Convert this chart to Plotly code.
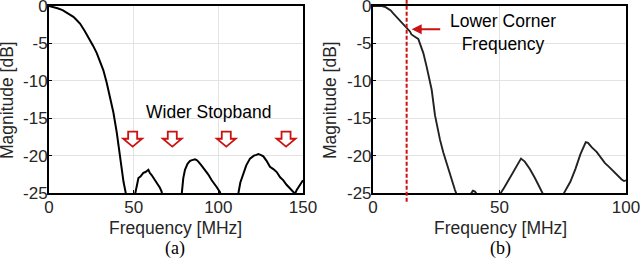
import plotly.graph_objects as go

# ---- data (a) ----
freq_a = [0, 2, 5, 8, 10, 12, 14.4, 16, 18.3, 21, 24.2, 26, 28.2, 30, 32.1, 34, 36, 38, 40, 42, 44, 45.5, 47,
          49, 50.8, 52.8, 54, 55.7, 57, 58.7, 59.5, 60.6, 61.5, 62.6, 63.5, 64.6, 65.5, 66.5, 68,
          75, 78.4, 79.3, 80.3, 81.8, 83.3, 84.5, 86.2, 87.2, 88.2, 90, 92.1, 94, 96.1, 97.5, 99, 101, 103,
          108, 111.8, 113, 114.7, 116.5, 118.7, 121, 122.5, 123.6, 125, 126.6, 128.5, 130.5, 132.5, 134.5,
          136.5, 138.4, 140.3, 142.3, 144.3, 145.3, 146.3, 147.8, 149.2, 150]
mag_a = [0, -0.08, -0.3, -0.55, -0.8, -1.1, -1.45, -1.8, -2.35, -3.3, -4.5, -5.3, -6.3, -7.3, -8.6, -10.2, -12.1, -14.2,
         -16.9, -20.4, -23.5, -25.2, -28,
         -29, -25.2, -23.0, -22.8, -22.3, -22.2, -21.9, -22.3, -22.6, -22.9, -23.3, -23.5, -23.9, -24.3, -24.8, -27,
         -28, -25.1, -23.0, -21.9, -21.1, -20.7, -20.6, -20.5, -20.6, -20.8, -21.3, -21.9, -22.5, -23.3, -23.7, -24.2, -24.9, -27,
         -28, -25.1, -23.6, -22.4, -21.3, -20.4, -20.0, -19.9, -19.8, -19.9, -20.1, -20.7, -21.5, -21.8, -22.2,
         -22.9, -23.3, -23.9, -24.4, -24.8, -25.1, -24.6, -24.1, -23.6, -23.3]

# ---- data (b) ----
freq_b = [0, 2, 3.5, 5, 7, 8, 10, 12, 13.3, 14.6, 15.2, 15.9, 17, 17.9, 19, 19.9, 21.2, 22.2, 23.2, 24.5,
          25.2, 26.5, 27.8, 29.1, 30.5, 32.4, 34, 37, 38.5, 39.5, 40.3, 41.5, 45,
          49, 50.5, 52, 54, 56, 58.5, 60, 62, 64, 66, 67.5, 70,
          74, 75.5, 78, 80, 82, 84.1, 85, 86.5, 88.4, 90, 91.7, 93.3, 95, 96.5, 98.3, 99.2, 100]
mag_b = [0, 0, 0, -0.15, -0.6, -1.0, -1.7, -2.5, -3.0, -3.4, -3.8, -4.0, -4.2, -4.4, -5.3, -6.3, -8.1, -9.6, -11.2, -14.6,
         -15.8, -17.9, -19.6, -21.0, -22.7, -24.6, -26, -26, -25.2, -24.7, -24.8, -25.3, -27,
         -27, -25.0, -24.2, -23.0, -21.8, -20.4, -20.8, -21.8, -23.0, -24.3, -25.3, -27,
         -27, -25.0, -23.5, -21.8, -19.8, -18.2, -18.3, -18.9, -19.5, -20.3, -21.0, -21.5, -22.1, -22.6, -23.2, -23.4, -23.3]

x_ticks_a = [0, 50, 100, 150]
x_ticks_b = [0, 50, 100]
y_ticks = [0, -5, -10, -15, -20, -25]
y_tick_text = ["0", "-5", "-10", "-15", "-20", "-25"]

stop_arrow_f = [49.4, 72.8, 104.7, 140.0]
corner_freq = 13.3

RED = "#cc1111"
TXT = "#262626"
FONT = "Liberation Sans, Arial, sans-serif"

fig = go.Figure()
fig.add_trace(go.Scatter(x=freq_a, y=mag_a, mode="lines", line=dict(color="black", width=2),
                         xaxis="x", yaxis="y", showlegend=False))
fig.add_trace(go.Scatter(x=freq_b, y=mag_b, mode="lines", line=dict(color="#222222", width=1.9),
                         xaxis="x2", yaxis="y2", showlegend=False))

ydom = [0.2605, 0.977]
common_y = dict(range=[-25, 0], tickvals=y_ticks, ticktext=y_tick_text, showgrid=True,
                gridcolor="#e3e3e3", gridwidth=1, showline=True, linecolor="black", linewidth=2,
                mirror=True, ticks="inside", ticklen=3, tickcolor="black", zeroline=False, automargin=False,
                ticklabeloverflow="allow", ticklabelstandoff=-4,
                tickfont=dict(family=FONT, size=17, color=TXT), domain=ydom)
common_x = dict(showgrid=True, gridcolor="#e3e3e3", gridwidth=1, showline=True, linecolor="black",
                linewidth=2, mirror=True, ticks="inside", ticklen=3, tickcolor="black", zeroline=False,
                automargin=False, ticklabeloverflow="allow", ticklabelstandoff=-2,
                tickfont=dict(family=FONT, size=17, color=TXT))

fig.update_layout(
    width=640, height=261, margin=dict(l=0, r=0, t=0, b=0, autoexpand=False),
    paper_bgcolor="white", plot_bgcolor="white",
    xaxis=dict(domain=[0.0766, 0.4734], range=[0, 150], tickvals=x_ticks_a, anchor="y", **common_x),
    yaxis=dict(anchor="x", **common_y),
    xaxis2=dict(domain=[0.5828, 0.9781], range=[0, 100], tickvals=x_ticks_b, anchor="y2", **common_x),
    yaxis2=dict(anchor="x2", **common_y),
)

# block arrows (hollow) for stopband
head_half = 5.6
shaft_half = 2.66
top = -16.8
mid = -17.75
bot = -18.8
for f in stop_arrow_f:
    path = (f"M {f-shaft_half} {top} L {f+shaft_half} {top} L {f+shaft_half} {mid} L {f+head_half} {mid} "
            f"L {f} {bot} L {f-head_half} {mid} L {f-shaft_half} {mid} Z")
    fig.add_shape(type="path", path=path, xref="x", yref="y", line=dict(color=RED, width=1.8),
                  fillcolor="white")

# dashed corner-frequency line
fig.add_shape(type="line", x0=corner_freq, x1=corner_freq, y0=0.227, y1=1.0, xref="x2", yref="paper",
              line=dict(color=RED, width=2, dash="4px,2px"))

C = dict(xanchor="center", yanchor="middle", showarrow=False)
ann = []
ann.append(dict(x=15.3, y=-3.1, xref="x2", yref="y2", text="", showarrow=True, ax=30, ay=0,
                arrowhead=2, arrowsize=1, arrowwidth=2, arrowcolor=RED))
ann.append(dict(x=502.5 / 640, y=(261 - 33) / 261, xref="paper", yref="paper", text="Lower Corner<br>Frequency",
                font=dict(family=FONT, size=17.5, color="black"), align="center", **C))
ann.append(dict(x=209 / 640, y=(261 - 112) / 261, xref="paper", yref="paper", text="Wider Stopband",
                font=dict(family=FONT, size=17.5, color="black"), **C))
# axis titles
for xc, cap in [(175 / 640, "(a)"), (500 / 640, "(b)")]:
    ann.append(dict(x=xc, y=(261 - 227.5) / 261, xref="paper", yref="paper", text="Frequency [MHz]",
                    font=dict(family=FONT, size=17.5, color=TXT), **C))
    ann.append(dict(x=xc, y=(261 - 248.5) / 261, xref="paper", yref="paper", text=cap,
                    font=dict(family="Liberation Serif, Times New Roman, serif", size=18, color="black"), **C))
for xc in [7 / 640, 330 / 640]:
    ann.append(dict(x=xc, y=(261 - 100) / 261, xref="paper", yref="paper", text="Magnitude [dB]",
                    textangle=-90, font=dict(family=FONT, size=17.5, color=TXT), **C))
fig.update_layout(annotations=ann)

fig.write_html("out.html", config={"displayModeBar": False},
               post_script="document.body.style.margin='0';document.body.style.overflow='hidden';")
